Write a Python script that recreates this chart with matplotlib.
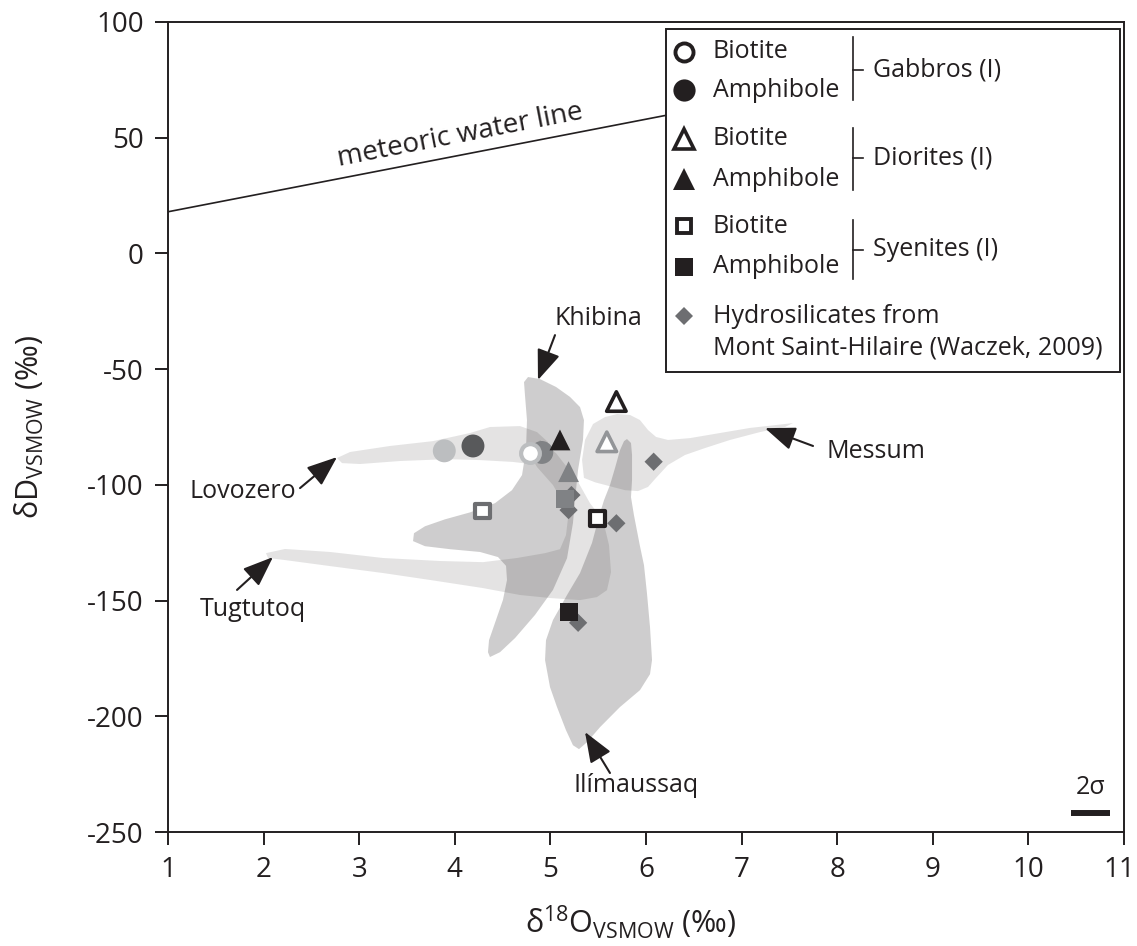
import matplotlib
matplotlib.use("Agg")
import matplotlib.pyplot as plt
import matplotlib.transforms as mtransforms
import numpy as np
from matplotlib.patches import Rectangle

plt.rcParams['font.family'] = ['Open Sans', 'DejaVu Sans']
plt.rcParams['mathtext.fontset'] = 'custom'
plt.rcParams['mathtext.rm'] = 'Open Sans'
plt.rcParams['mathtext.it'] = 'Open Sans:italic'
plt.rcParams['axes.unicode_minus'] = False

BLACK = '#231f20'

# --- fields (outlines, d18O / dD) ---
khibina_x = [4.724, 4.766, 4.891, 5.059, 5.205, 5.310, 5.351, 5.341, 5.289, 5.257, 5.236,
             5.174, 5.027, 4.839, 4.630, 4.473, 4.368, 4.347, 4.358, 4.431, 4.504, 4.546,
             4.536, 4.452, 4.264, 3.950, 3.688, 3.563, 3.573, 3.688, 3.897, 4.159, 4.421,
             4.598, 4.703, 4.745, 4.755, 4.734]
khibina_y = [-55.6, -53.4, -54.3, -57.7, -62.0, -66.4, -72.0, -80.6, -93.6, -106.6, -116.5,
             -131.7, -145.4, -156.2, -166.2, -172.3, -174.4, -172.3, -167.1, -158.4, -149.7, -141.1,
             -135.0, -131.2, -129.0, -127.8, -126.5, -124.3, -120.9, -117.9, -114.9, -111.9, -107.9,
             -102.3, -95.8, -85.0, -72.0, -61.2]

ilimaussaq_x = [5.801, 5.843, 5.854, 5.854, 5.843, 5.874, 5.937, 5.979, 6.010, 6.042, 6.063,
                6.042, 5.937, 5.728, 5.519, 5.383, 5.299, 5.236, 5.163, 5.069, 4.996, 4.944,
                4.954, 5.027, 5.174, 5.310, 5.435, 5.519, 5.561, 5.623, 5.676, 5.728, 5.770]
ilimaussaq_y = [-80.2, -81.9, -87.1, -97.9, -105.3, -113.1, -126.5, -134.7, -146.8, -161.5, -175.7,
                -181.8, -188.7, -196.0, -204.7, -211.2, -214.2, -212.5, -206.0, -196.0, -187.4, -175.7,
                -167.1, -158.4, -147.6, -138.1, -125.1, -112.2, -106.6, -100.1, -92.7, -85.0, -81.1]

messum_x = [5.351, 5.331, 5.362, 5.446, 5.571, 5.697, 5.833, 5.937, 6.021, 6.105, 6.230, 6.460,
            6.774, 7.088, 7.349, 7.538, 7.454, 7.192, 6.879, 6.617, 6.408, 6.230, 6.105, 6.021,
            5.916, 5.780, 5.623, 5.467]
messum_y = [-97.0, -89.3, -80.6, -73.7, -70.7, -69.4, -69.8, -72.0, -76.3, -79.3, -80.6, -79.8,
            -77.6, -75.4, -74.2, -73.3, -75.0, -77.2, -80.6, -84.1, -87.1, -91.4, -97.0, -100.9,
            -102.7, -102.3, -100.6, -98.9]

lovozero_x = [2.768, 2.904, 3.322, 3.772, 4.159, 4.368, 4.682, 4.860, 4.975, 4.954, 4.787,
              4.609, 4.264, 3.918, 3.427, 3.008, 2.820]
lovozero_y = [-88.4, -85.8, -83.2, -81.1, -77.6, -75.0, -74.6, -77.2, -81.5, -88.4, -91.0,
              -90.1, -89.3, -88.9, -89.7, -91.0, -90.6]

tugtutoq_x = [2.025, 2.224, 2.695, 3.249, 3.845, 4.295, 4.651, 4.944, 5.100, 5.163, 5.184,
              5.132, 5.027, 4.860, 4.787, 4.891, 5.059, 5.278, 5.414, 5.550, 5.613, 5.634,
              5.592, 5.487, 5.310, 4.996, 4.682, 4.295, 3.741, 3.249, 2.695, 2.224, 2.046]
tugtutoq_y = [-129.5, -127.7, -129.0, -131.6, -132.9, -133.4, -131.6, -129.5, -127.8, -121.7, -114.4,
              -107.5, -100.1, -92.3, -87.1, -80.6, -86.3, -97.9, -107.9, -115.2, -126.0, -137.7,
              -145.5, -148.5, -149.8, -148.9, -147.6, -144.6, -141.1, -138.1, -135.1, -132.5, -131.6]

# --- samples ---
gab_bt_x = [4.79]
gab_bt_y = [-86.4]
gab_bt_col = ['#bcbec0']
gab_amph_x = [3.89, 4.19, 4.91]
gab_amph_y = [-85.3, -83.2, -86.0]
gab_amph_col = ['#bcbec0', '#58595b', '#808285']

dio_bt_x = [5.69, 5.59]
dio_bt_y = [-64.0, -81.4]
dio_bt_col = [BLACK, '#939598']
dio_amph_x = [5.10, 5.19]
dio_amph_y = [-80.6, -94.3]
dio_amph_col = [BLACK, '#808285']

sye_bt_x = [4.29, 5.49]
sye_bt_y = [-111.3, -114.5]
sye_bt_col = ['#6d6e71', BLACK]
sye_amph_x = [5.15, 5.19]
sye_amph_y = [-106.3, -154.8]
sye_amph_col = ['#808285', BLACK]

hydro_x = [5.22, 5.19, 5.69, 6.08, 5.29]
hydro_y = [-104.4, -110.9, -116.6, -90.0, -159.6]

# meteoric water line, drawn up to the legend box
mwl_x = [1, 6.2]
mwl_y = [18, 59.6]

field_names = ['Khibina', 'Lovozero', 'Tugtutoq', 'Messum', 'Ilímaussaq']
label_x = [5.50, 1.785, 1.889, 8.406, 5.895]
label_y = [-28.0, -102.7, -153.7, -85.4, -229.7]
arrow_tail_x = [5.048, 2.381, 1.722, 7.747, 5.623]
arrow_tail_y = [-35.3, -101.4, -145.4, -83.2, -224.5]
arrow_head_x = [4.870, 2.768, 2.098, 7.245, 5.362]
arrow_head_y = [-54.7, -88.0, -131.2, -75.5, -206.8]

fig = plt.figure(figsize=(11.37, 9.46), dpi=100)
ax = fig.add_axes([168 / 1137, 1 - 832 / 946, 956 / 1137, 810 / 946])
ax.set_xlim(1, 11)
ax.set_ylim(-250, 100)

# fields
ax.fill(lovozero_x, lovozero_y, color=BLACK, alpha=0.12, lw=0, zorder=1)
ax.fill(tugtutoq_x, tugtutoq_y, color=BLACK, alpha=0.12, lw=0, zorder=1)
ax.fill(messum_x, messum_y, color=BLACK, alpha=0.12, lw=0, zorder=1)
ax.fill(khibina_x, khibina_y, color=BLACK, alpha=0.22, lw=0, zorder=1)
ax.fill(ilimaussaq_x, ilimaussaq_y, color=BLACK, alpha=0.22, lw=0, zorder=1)

# meteoric water line
ax.plot(mwl_x, mwl_y, color=BLACK, lw=1.2, zorder=2)
p1 = ax.transData.transform((mwl_x[0], mwl_y[0]))
p2 = ax.transData.transform((mwl_x[1], mwl_y[1]))
ang = np.degrees(np.arctan2(p2[1] - p1[1], p2[0] - p1[0]))
ax.text(4.075, 47.9, 'meteoric water line', rotation=ang, rotation_mode='anchor',
        ha='center', va='baseline', fontsize=20, color=BLACK, zorder=2)

# samples
ax.scatter(gab_amph_x, gab_amph_y, s=16.5**2, marker='o', c=gab_amph_col, edgecolors='none', zorder=3)
ax.scatter(gab_bt_x, gab_bt_y, s=13.5**2, marker='o', facecolors='white', edgecolors=gab_bt_col,
           linewidths=3, zorder=4)
ax.scatter(dio_amph_x, dio_amph_y, s=15**2, marker='^', c=dio_amph_col, edgecolors='none', zorder=3)
ax.scatter(dio_bt_x, dio_bt_y, s=14**2, marker='^', facecolors='white', edgecolors=dio_bt_col,
           linewidths=2.6, zorder=4)
ax.scatter(hydro_x, hydro_y, s=9.3**2, marker='D', c='#6d6e71', edgecolors='none', zorder=3)
ax.scatter(sye_amph_x, sye_amph_y, s=13**2, marker='s', c=sye_amph_col, edgecolors='none', zorder=4)
ax.scatter(sye_bt_x, sye_bt_y, s=10.5**2, marker='s', facecolors='white', edgecolors=sye_bt_col,
           linewidths=3, zorder=4)

# field labels with arrows
for name, lx, ly, tx, ty, hx, hy in zip(field_names, label_x, label_y, arrow_tail_x, arrow_tail_y,
                                         arrow_head_x, arrow_head_y):
    ax.text(lx, ly, name, fontsize=18, ha='center', va='center', color=BLACK, zorder=5)
    ax.annotate('', xy=(hx, hy), xytext=(tx, ty),
                arrowprops=dict(arrowstyle='-|>,head_length=0.85,head_width=0.33', color=BLACK,
                                lw=1.5, shrinkA=0, shrinkB=0, mutation_scale=22), zorder=5)

# 2 sigma bar
ax.plot([10.45, 10.85], [-242, -242], color=BLACK, lw=4.3, solid_capstyle='butt')
ax.text(10.65, -236, '2σ', fontsize=18, ha='center', va='bottom', color=BLACK)

# axes styling
ax.set_xticks(range(1, 12))
ax.set_yticks(range(-250, 101, 50))
ax.tick_params(direction='out', length=9.5, width=1.4, labelsize=20, pad=8, colors=BLACK)
for sp in ax.spines.values():
    sp.set_linewidth(1.4)
    sp.set_color(BLACK)
# nudge the last x tick label so it stays inside the figure
last = ax.get_xticklabels()[-1]
last.set_transform(last.get_transform() + mtransforms.ScaledTranslation(-0.05, 0, fig.dpi_scale_trans))

ax.set_xlabel(r'$\mathrm{δ^{18}O_{VSMOW}}$ (‰)', fontsize=22, color=BLACK)
ax.set_ylabel(r'$\mathrm{δD_{VSMOW}}$ (‰)', fontsize=22, color=BLACK)
ax.xaxis.set_label_coords(0.484, -0.088)
ax.yaxis.set_label_coords(-0.128, 0.5)

# legend drawn by hand
T = ax.transAxes
ax.add_patch(Rectangle((0.521, 0.568), 0.475, 0.423, transform=T, facecolor='white',
                       edgecolor=BLACK, lw=1.4, zorder=6))
mx, tx0 = 0.540, 0.570
rows = [0.963, 0.916, 0.856, 0.806, 0.748, 0.698, 0.637]
specs = [('o', 'white', 13, 2.8, 'Biotite'), ('o', BLACK, 16, 0, 'Amphibole'),
         ('^', 'white', 14, 2.6, 'Biotite'), ('^', BLACK, 16, 0, 'Amphibole'),
         ('s', 'white', 10.5, 2.8, 'Biotite'), ('s', BLACK, 12.5, 0, 'Amphibole'),
         ('D', '#6d6e71', 9.3, 0, 'Hydrosilicates from')]
for yy, (m, fc, ms, mew, lab) in zip(rows, specs):
    ec = BLACK if fc != '#6d6e71' else fc
    ax.plot([mx], [yy], transform=T, marker=m, ms=ms, mfc=fc, mec=ec, mew=mew, ls='none',
            clip_on=False, zorder=7)
    ax.text(tx0, yy, lab, transform=T, fontsize=18, va='center', ha='left', color=BLACK, zorder=7)
ax.text(tx0, 0.598, 'Mont Saint-Hilaire (Waczek, 2009)', transform=T, fontsize=18,
        va='center', ha='left', color=BLACK, zorder=7)

groups = [('Gabbros (I)', 0.982, 0.904, 0.941), ('Diorites (I)', 0.869, 0.792, 0.832),
          ('Syenites (I)', 0.755, 0.683, 0.719)]
for lab, top, bot, mid in groups:
    ax.plot([0.7165, 0.7165], [bot, top], transform=T, color=BLACK, lw=1.2, zorder=7)
    ax.plot([0.7165, 0.7267], [mid, mid], transform=T, color=BLACK, lw=1.2, zorder=7)
    ax.text(0.7377, mid, lab, transform=T, fontsize=18, va='center', ha='left', color=BLACK, zorder=7)

fig.savefig('out.png', dpi=100)
